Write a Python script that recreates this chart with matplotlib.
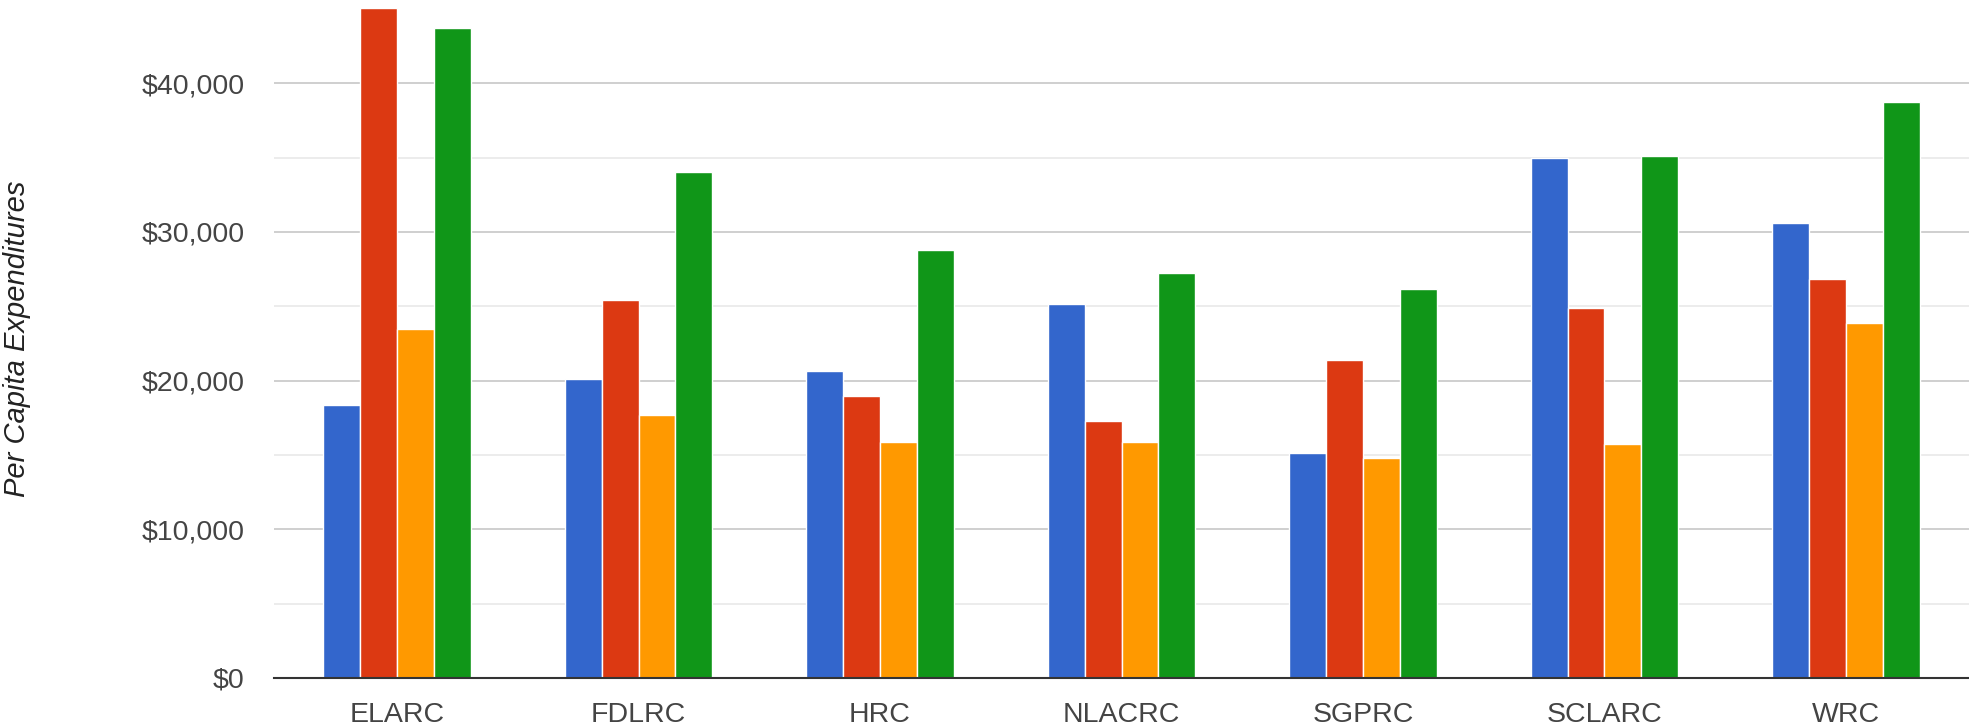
import numpy as np
import matplotlib.pyplot as plt
from matplotlib.ticker import FuncFormatter, MultipleLocator, FixedLocator

regions = ["ELARC", "FDLRC", "HRC", "NLACRC", "SGPRC", "SCLARC", "WRC"]

series_blue = [18330, 20120, 20630, 25160, 15100, 34950, 30580]
series_red = [45030, 25400, 18970, 17290, 21420, 24890, 26840]
series_orange = [23480, 17680, 15880, 15880, 14830, 15770, 23880]
series_green = [43730, 34050, 28760, 27240, 26160, 35100, 38710]

colors = ["#3366cc", "#dc3912", "#ff9900", "#109618"]

plt.rcParams['font.family'] = ['Liberation Sans', 'DejaVu Sans']

fig = plt.figure(figsize=(19.69, 7.26), dpi=100)
ax = fig.add_axes([274 / 1969, 48 / 726, 1 - 274 / 1969, 678 / 726])

x = np.arange(len(regions))
width = 0.1525
all_series = [series_blue, series_red, series_orange, series_green]
for i, (vals, c) in enumerate(zip(all_series, colors)):
    offset = (i - 1.5) * width
    ax.bar(x + offset, vals, width, color=c, edgecolor="white",
           linewidth=1.0, zorder=3)

ax.set_xlim(-0.51, 6.51)
ax.set_ylim(0, 45600)

# labelled lines every 10k, faint ones halfway between
ax.yaxis.set_major_locator(MultipleLocator(10000))
ax.yaxis.set_minor_locator(FixedLocator([5000, 15000, 25000, 35000]))
ax.yaxis.set_major_formatter(FuncFormatter(lambda v, p: "${:,.0f}".format(v)))
ax.grid(axis='y', which='major', color='#cccccc', linewidth=1.3, zorder=0)
ax.grid(axis='y', which='minor', color='#ebebeb', linewidth=1.3, zorder=0)
ax.set_axisbelow(True)

ax.set_xticks(x)
ax.set_xticklabels(regions)
ax.tick_params(axis='both', which='both', length=0, labelsize=20.5,
               labelcolor='#444444')
ax.tick_params(axis='y', pad=21)
ax.tick_params(axis='x', pad=17)

for side in ['top', 'right', 'left']:
    ax.spines[side].set_visible(False)
ax.spines['bottom'].set_color('#333333')
ax.spines['bottom'].set_linewidth(1.5)
ax.spines['bottom'].set_zorder(4)

fig.text(17 / 1969, 1 - 339 / 726, "Per Capita Expenditures", rotation=90,
         ha='center', va='center', fontsize=21, style='italic',
         color='#222222')

fig.savefig("out.png", dpi=100)
